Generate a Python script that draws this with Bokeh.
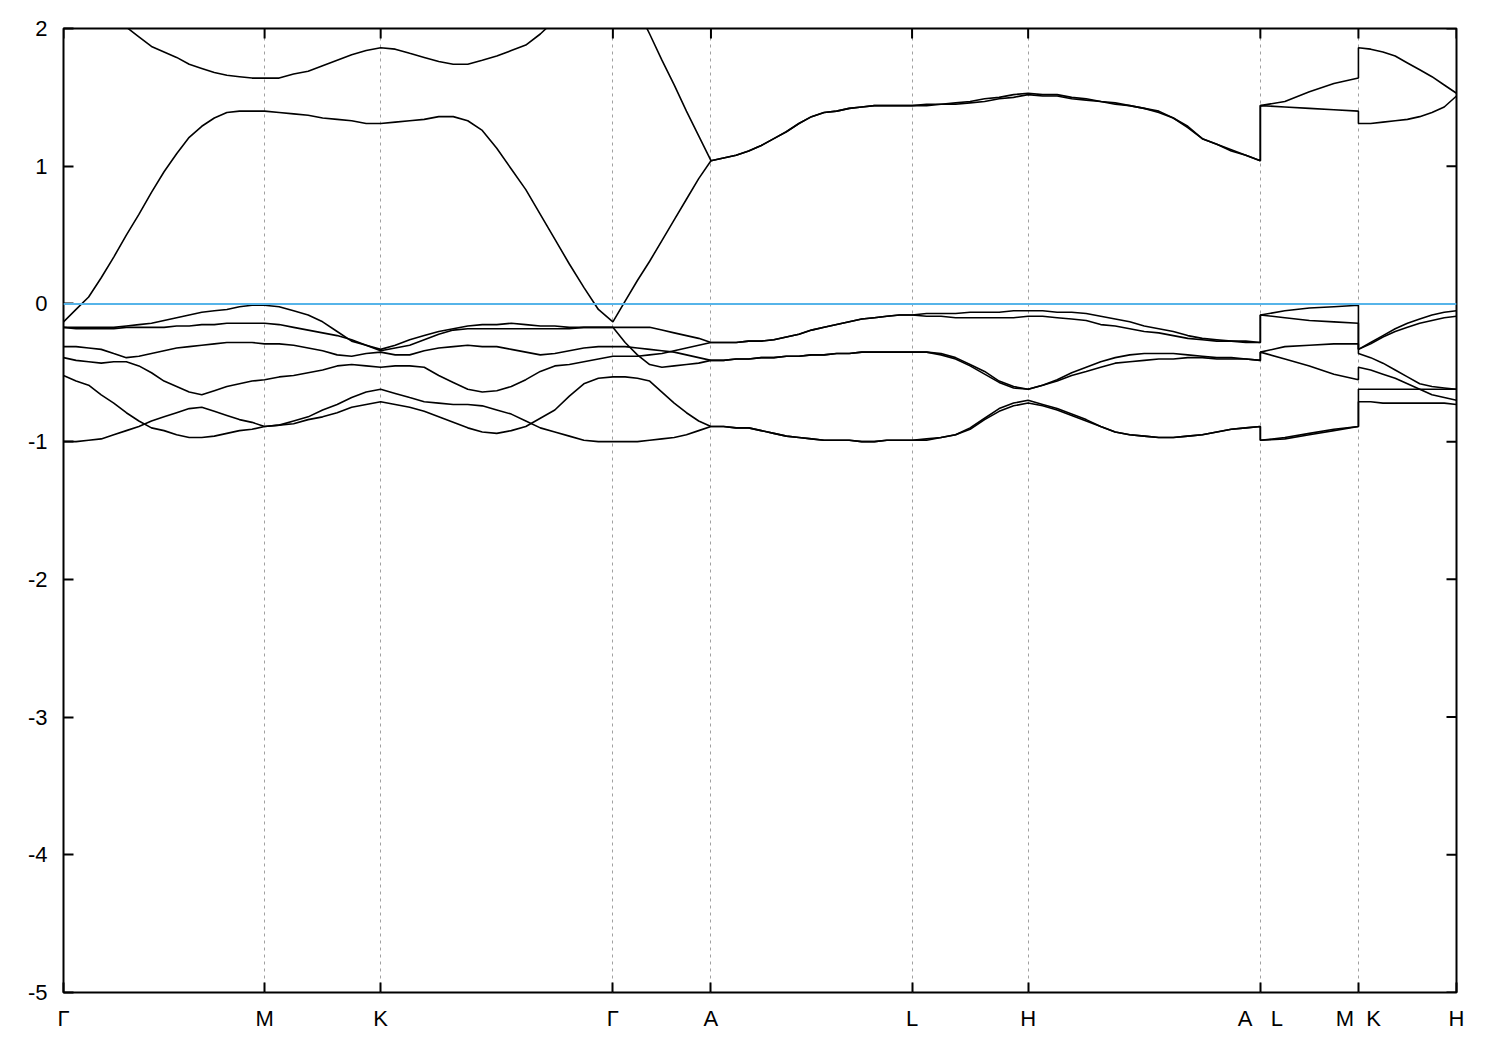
import math
from bokeh.plotting import figure
from bokeh.models import Range1d, FixedTicker, Span
from bokeh.embed import file_html
from bokeh.resources import INLINE

# k-path coordinates (Γ-M-K-Γ-A-L-H-A | L-M | K-H), one row per path segment
k_path = [
    0.0000, 0.0361, 0.0722, 0.1083, 0.1443, 0.1804, 0.2165, 0.2526, 0.2887,
    0.3248, 0.3609, 0.3970, 0.4330, 0.4691, 0.5052, 0.5413, 0.5774,
    0.6191, 0.6607, 0.7024, 0.7440, 0.7857, 0.8274, 0.8690, 0.9107,
    0.9524, 0.9940, 1.0357, 1.0774, 1.1190, 1.1607, 1.2024, 1.2440,
    1.2857, 1.3274, 1.3690, 1.4107, 1.4524, 1.4940, 1.5357, 1.5774,
    1.6126, 1.6478, 1.6830, 1.7182, 1.7534, 1.7886, 1.8238, 1.8590,
    1.8951, 1.9312, 1.9673, 2.0034, 2.0395, 2.0755, 2.1116, 2.1477,
    2.1838, 2.2199, 2.2560, 2.2920, 2.3281, 2.3642, 2.4003, 2.4364,
    2.4781, 2.5197, 2.5614, 2.6030, 2.6447, 2.6864, 2.7280, 2.7697,
    2.8114, 2.8530, 2.8947, 2.9364, 2.9780, 3.0197, 3.0614, 3.1030,
    3.1447, 3.1864, 3.2280, 3.2697, 3.3114, 3.3530, 3.3947, 3.4364,
    3.4364, 3.5068, 3.5772, 3.6476, 3.7180,
    3.7180, 3.7532, 3.7884, 3.8236, 3.8588, 3.8940, 3.9292, 3.9644, 3.9996,
]

tick_k = [0.0, 0.5774, 0.9107, 1.5774, 1.8590, 2.4364, 2.7697, 3.4364, 3.7180, 3.9996]
tick_labels = ["Γ", "M", "K", "Γ", "A", "L", "H",
               "A\u00a0\u00a0\u00a0L", "M\u00a0\u00a0K", "H"]
y_ticks = [-5, -4, -3, -2, -1, 0, 1, 2]
y_tick_labels = ["-5", "-4", "-3", "-2", "-1", "0", "1", "2"]
fermi_level = 0.0

band_c2 = [
    2.50, 2.40, 2.30, 2.20, 2.09, 2.01, 1.94, 1.87, 1.83,
    1.79, 1.74, 1.71, 1.68, 1.66, 1.65, 1.64, 1.64,
    1.64, 1.67, 1.69, 1.73, 1.77, 1.81, 1.84, 1.86,
    1.85, 1.82, 1.79, 1.76, 1.74, 1.74, 1.77, 1.80,
    1.84, 1.88, 1.96, 2.06, 2.17, 2.30, 2.40, 2.50,
    2.32, 2.14, 1.96, 1.77, 1.59, 1.40, 1.22, 1.04,
    1.06, 1.08, 1.11, 1.15, 1.20, 1.25, 1.31, 1.36,
    1.39, 1.40, 1.42, 1.43, 1.44, 1.44, 1.44, 1.44,
    1.45, 1.45, 1.46, 1.47, 1.49, 1.50, 1.52, 1.53,
    1.52, 1.52, 1.50, 1.49, 1.47, 1.46, 1.44, 1.42,
    1.40, 1.35, 1.29, 1.20, 1.16, 1.12, 1.08, 1.04,
    1.44, 1.47, 1.54, 1.60, 1.64,
    1.86, 1.85, 1.83, 1.80, 1.75, 1.70, 1.65, 1.59, 1.53,
]
band_c1 = [
    -0.13, -0.04, 0.05, 0.19, 0.34, 0.50, 0.65, 0.81, 0.96,
    1.09, 1.21, 1.29, 1.35, 1.39, 1.40, 1.40, 1.40,
    1.39, 1.38, 1.37, 1.35, 1.34, 1.33, 1.31, 1.31,
    1.32, 1.33, 1.34, 1.36, 1.36, 1.33, 1.26, 1.13,
    0.98, 0.83, 0.65, 0.47, 0.29, 0.12, -0.04, -0.13,
    0.02, 0.17, 0.31, 0.46, 0.61, 0.76, 0.91, 1.04,
    1.06, 1.08, 1.11, 1.15, 1.20, 1.25, 1.31, 1.36,
    1.39, 1.40, 1.42, 1.43, 1.44, 1.44, 1.44, 1.44,
    1.44, 1.45, 1.45, 1.46, 1.47, 1.49, 1.50, 1.52,
    1.51, 1.51, 1.49, 1.48, 1.47, 1.45, 1.44, 1.42,
    1.39, 1.35, 1.28, 1.20, 1.16, 1.11, 1.08, 1.04,
    1.44, 1.43, 1.42, 1.41, 1.40,
    1.31, 1.31, 1.32, 1.33, 1.34, 1.36, 1.39, 1.43, 1.51,
]
band_v1 = [
    -0.17, -0.17, -0.17, -0.17, -0.17, -0.16, -0.15, -0.14, -0.12,
    -0.10, -0.08, -0.06, -0.05, -0.04, -0.02, -0.01, -0.01,
    -0.02, -0.05, -0.08, -0.13, -0.20, -0.27, -0.30, -0.33,
    -0.30, -0.26, -0.23, -0.20, -0.18, -0.16, -0.15, -0.15,
    -0.14, -0.15, -0.16, -0.16, -0.17, -0.17, -0.17, -0.17,
    -0.17, -0.17, -0.17, -0.19, -0.21, -0.23, -0.25, -0.28,
    -0.28, -0.28, -0.27, -0.27, -0.26, -0.24, -0.22, -0.19,
    -0.17, -0.15, -0.13, -0.11, -0.10, -0.09, -0.08, -0.08,
    -0.07, -0.07, -0.07, -0.06, -0.06, -0.06, -0.05, -0.05,
    -0.05, -0.06, -0.06, -0.07, -0.09, -0.11, -0.13, -0.16,
    -0.18, -0.20, -0.23, -0.25, -0.26, -0.27, -0.27, -0.28,
    -0.08, -0.05, -0.03, -0.02, -0.01,
    -0.33, -0.28, -0.23, -0.18, -0.14, -0.11, -0.08, -0.06, -0.05,
]
band_v4 = [
    -0.39, -0.41, -0.42, -0.43, -0.42, -0.42, -0.45, -0.50, -0.56,
    -0.60, -0.64, -0.66, -0.63, -0.60, -0.58, -0.56, -0.55,
    -0.53, -0.52, -0.50, -0.48, -0.45, -0.44, -0.45, -0.46,
    -0.45, -0.45, -0.46, -0.52, -0.57, -0.62, -0.64, -0.63,
    -0.60, -0.55, -0.49, -0.45, -0.44, -0.42, -0.40, -0.38,
    -0.38, -0.38, -0.37, -0.36, -0.34, -0.32, -0.30, -0.28,
    -0.28, -0.28, -0.27, -0.27, -0.26, -0.24, -0.22, -0.19,
    -0.17, -0.15, -0.13, -0.11, -0.10, -0.09, -0.08, -0.08,
    -0.09, -0.09, -0.10, -0.10, -0.10, -0.10, -0.10, -0.09,
    -0.09, -0.10, -0.11, -0.12, -0.15, -0.16, -0.18, -0.20,
    -0.21, -0.23, -0.25, -0.26, -0.27, -0.27, -0.28, -0.28,
    -0.08, -0.10, -0.12, -0.13, -0.14,
    -0.33, -0.29, -0.24, -0.20, -0.17, -0.14, -0.12, -0.10, -0.09,
]
band_v2 = [
    -0.17, -0.18, -0.18, -0.18, -0.18, -0.17, -0.17, -0.17, -0.17,
    -0.16, -0.16, -0.15, -0.15, -0.14, -0.14, -0.14, -0.14,
    -0.15, -0.17, -0.19, -0.21, -0.23, -0.26, -0.30, -0.34,
    -0.32, -0.30, -0.26, -0.22, -0.19, -0.18, -0.18, -0.18,
    -0.18, -0.18, -0.18, -0.18, -0.18, -0.17, -0.17, -0.17,
    -0.28, -0.37, -0.44, -0.46, -0.45, -0.44, -0.43, -0.41,
    -0.41, -0.40, -0.40, -0.39, -0.39, -0.38, -0.38, -0.37,
    -0.37, -0.36, -0.36, -0.35, -0.35, -0.35, -0.35, -0.35,
    -0.35, -0.36, -0.39, -0.44, -0.49, -0.56, -0.60, -0.62,
    -0.59, -0.55, -0.50, -0.46, -0.42, -0.39, -0.37, -0.36,
    -0.36, -0.36, -0.37, -0.38, -0.39, -0.39, -0.40, -0.41,
    -0.35, -0.31, -0.30, -0.29, -0.29,
    -0.36, -0.39, -0.43, -0.48, -0.53, -0.58, -0.60, -0.61, -0.62,
]
band_v3 = [
    -0.31, -0.31, -0.32, -0.33, -0.36, -0.39, -0.38, -0.36, -0.34,
    -0.32, -0.31, -0.30, -0.29, -0.28, -0.28, -0.28, -0.29,
    -0.29, -0.30, -0.32, -0.34, -0.37, -0.38, -0.36, -0.35,
    -0.37, -0.37, -0.34, -0.32, -0.31, -0.30, -0.31, -0.31,
    -0.33, -0.35, -0.37, -0.36, -0.34, -0.32, -0.31, -0.31,
    -0.31, -0.32, -0.33, -0.34, -0.35, -0.37, -0.39, -0.41,
    -0.41, -0.40, -0.40, -0.39, -0.39, -0.38, -0.38, -0.37,
    -0.37, -0.36, -0.36, -0.35, -0.35, -0.35, -0.35, -0.35,
    -0.35, -0.37, -0.40, -0.45, -0.51, -0.57, -0.61, -0.62,
    -0.59, -0.56, -0.52, -0.49, -0.46, -0.43, -0.42, -0.41,
    -0.40, -0.40, -0.39, -0.39, -0.40, -0.40, -0.40, -0.41,
    -0.35, -0.40, -0.45, -0.51, -0.55,
    -0.46, -0.48, -0.51, -0.54, -0.58, -0.62, -0.66, -0.68, -0.70,
]
band_v5 = [
    -0.52, -0.56, -0.59, -0.66, -0.72, -0.79, -0.85, -0.90, -0.92,
    -0.95, -0.97, -0.97, -0.96, -0.94, -0.92, -0.91, -0.89,
    -0.88, -0.85, -0.82, -0.77, -0.73, -0.68, -0.64, -0.62,
    -0.65, -0.68, -0.71, -0.72, -0.73, -0.73, -0.74, -0.77,
    -0.80, -0.85, -0.90, -0.93, -0.96, -0.99, -1.00, -1.00,
    -1.00, -1.00, -0.99, -0.98, -0.97, -0.95, -0.92, -0.89,
    -0.89, -0.90, -0.90, -0.92, -0.94, -0.96, -0.97, -0.98,
    -0.99, -0.99, -0.99, -1.00, -1.00, -0.99, -0.99, -0.99,
    -0.98, -0.97, -0.95, -0.90, -0.83, -0.76, -0.72, -0.70,
    -0.73, -0.76, -0.80, -0.84, -0.89, -0.93, -0.95, -0.96,
    -0.97, -0.97, -0.96, -0.95, -0.93, -0.91, -0.90, -0.89,
    -0.99, -0.98, -0.95, -0.92, -0.89,
    -0.71, -0.71, -0.72, -0.72, -0.72, -0.72, -0.72, -0.72, -0.73,
]
band_v6 = [
    -1.00, -1.00, -0.99, -0.98, -0.95, -0.92, -0.89, -0.85, -0.82,
    -0.79, -0.76, -0.75, -0.78, -0.81, -0.84, -0.86, -0.89,
    -0.88, -0.87, -0.84, -0.82, -0.79, -0.75, -0.73, -0.71,
    -0.73, -0.75, -0.78, -0.82, -0.86, -0.90, -0.93, -0.94,
    -0.92, -0.89, -0.83, -0.77, -0.67, -0.58, -0.54, -0.53,
    -0.53, -0.54, -0.56, -0.64, -0.72, -0.79, -0.85, -0.89,
    -0.89, -0.90, -0.90, -0.92, -0.94, -0.96, -0.97, -0.98,
    -0.99, -0.99, -0.99, -1.00, -1.00, -0.99, -0.99, -0.99,
    -0.99, -0.97, -0.95, -0.91, -0.84, -0.78, -0.74, -0.72,
    -0.74, -0.77, -0.81, -0.85, -0.89, -0.93, -0.95, -0.96,
    -0.97, -0.97, -0.96, -0.95, -0.93, -0.91, -0.90, -0.89,
    -0.99, -0.97, -0.94, -0.91, -0.89,
    -0.62, -0.62, -0.62, -0.62, -0.62, -0.62, -0.62, -0.62, -0.62,
]

bands = [band_c2, band_c1, band_v1, band_v2, band_v3, band_v4, band_v5, band_v6]

FONT = "Liberation Sans"
FS = "22px"
X0, X1 = tick_k[0], tick_k[-1]
Y0, Y1 = y_ticks[0], y_ticks[-1]

p = figure(
    frame_width=1393, frame_height=964,
    x_range=Range1d(X0, X1), y_range=Range1d(Y0, Y1),
    output_backend="svg", toolbar_location=None,
    min_border_left=63, min_border_top=28, min_border_right=30, min_border_bottom=50,
    background_fill_color="white", border_fill_color="white",
)
p.outline_line_color = "black"
p.outline_line_width = 2

# grid: vertical dotted lines at the high-symmetry points
p.xgrid.ticker = FixedTicker(ticks=tick_k)
p.xgrid.grid_line_color = "#a0a0a0"
p.xgrid.grid_line_dash = "3 4"
p.xgrid.grid_line_width = 1
p.ygrid.visible = False

def style_axis(ax, ticks, overrides, standoff):
    ax.ticker = FixedTicker(ticks=ticks)
    ax.axis_line_color = None
    ax.major_tick_in = 10
    ax.major_tick_out = 0
    ax.major_tick_line_width = 2
    ax.major_tick_line_color = "black"
    ax.minor_tick_line_color = None
    ax.major_label_overrides = overrides
    ax.major_label_text_font = FONT
    ax.major_label_text_font_size = FS
    ax.major_label_text_color = "black"
    ax.major_label_standoff = standoff

style_axis(p.xaxis[0], tick_k, {t: s for t, s in zip(tick_k, tick_labels)}, 13)
style_axis(p.yaxis[0], y_ticks, {t: s for t, s in zip(y_ticks, y_tick_labels)}, 16)

# mirrored inward ticks on the top and right edges
p.ray(x=tick_k, y=[Y1] * len(tick_k), length=10, length_units="screen",
      angle=-math.pi / 2, line_color="black", line_width=2)
p.ray(x=[X1] * len(y_ticks), y=y_ticks, length=10, length_units="screen",
      angle=math.pi, line_color="black", line_width=2)

for b in bands:
    n = min(len(b), len(k_path))
    p.line(k_path[:n], b[:n], line_color="black", line_width=1.6)

p.add_layout(Span(location=fermi_level, dimension="width",
                  line_color="#56B4E9", line_width=2))

open("out.html", "w").write(file_html(p, INLINE))
